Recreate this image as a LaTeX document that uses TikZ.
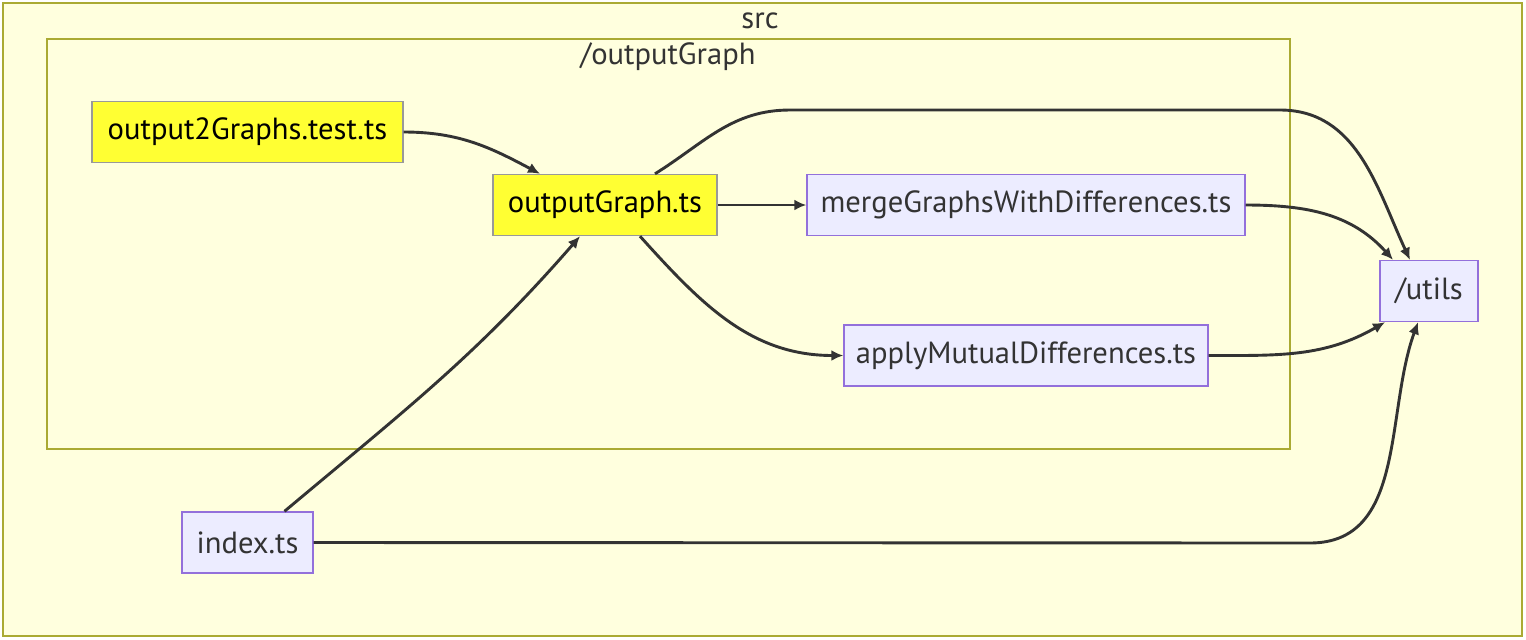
\documentclass[tikz,border=0pt]{standalone}
\usepackage{fontspec}
\setmainfont{PT Sans}
\usetikzlibrary{arrows.meta,positioning}
\definecolor{mmdBg}{HTML}{FFFFDE}
\definecolor{mmdEdge}{HTML}{AAAA33}
\definecolor{mmdNode}{HTML}{ECECFF}
\definecolor{mmdLine}{HTML}{9370DB}
\definecolor{mmdHot}{HTML}{FFFF33}
\definecolor{mmdGrey}{HTML}{999999}
\definecolor{mmdInk}{HTML}{333333}

\begin{document}
\begin{tikzpicture}[
  x=0.5pt, y=-0.5pt,
  font=\fontsize{15.3}{17}\selectfont,
  cluster/.style={draw=mmdEdge, fill=mmdBg, line width=.6pt},
  box/.style={draw=mmdLine, fill=mmdNode, line width=.7pt, text=mmdInk,
    inner sep=0pt, minimum height=30.5pt},
  hot/.style={box, draw=mmdGrey, fill=mmdHot, text=black},
  flow/.style={-{Latex[length=6pt,width=5.5pt]}, line width=1.45pt, draw=mmdInk}
]
  \useasboundingbox (0,0) rectangle (1526,639);
  % subgraphs
  \draw[cluster] (3,3) rectangle (1522,636);
  \node[text=mmdInk] (srcLbl) at (760,21) {src};
  \draw[cluster] (47,39) rectangle (1290,449);
  \node[text=mmdInk] (ogLbl) at (668,57) {/outputGraph};
  % files
  \node[hot,minimum width=155.5pt] (test) at (247.5,132) {output2Graphs.test.ts};
  \node[hot,minimum width=112pt] (og) at (605,205) {outputGraph.ts};
  \node[box,minimum width=219pt] (merge) at (1026,205) {mergeGraphsWithDifferences.ts};
  \node[box,minimum width=182pt] (apply) at (1026,355.5) {applyMutualDifferences.ts};
  \node[box,minimum width=49pt] (utils) at (1429,291) {/utils};
  \node[box,minimum width=65.5pt] (index) at (247.5,542.5) {index.ts};
  % edges
  \draw[flow] (test.east) to[out=0,in=152] ([xshift=-32.5pt]og.north);
  \draw[flow] ([xshift=25pt]og.north) to[out=32,in=180] (790,110) -- (1280,110)
    to[out=0,in=115] ([xshift=-9.5pt]utils.north);
  \draw[flow] (og.east) -- (merge.west);
  \draw[flow] ([xshift=17.5pt]og.south) to[out=-48,in=180] (apply.west);
  \draw[flow] (merge.east) to[out=0,in=132] ([xshift=-18pt]utils.north);
  \draw[flow] (apply.east) to[out=0,in=210] ([xshift=-22pt]utils.south);
  \draw[flow] ([xshift=18.5pt]index.north) to[out=40,in=229] ([xshift=-12.5pt]og.south);
  \draw[flow] (index.east) -- (1310,543) to[out=0,in=250] ([xshift=-5.5pt]utils.south);
\end{tikzpicture}
\end{document}
